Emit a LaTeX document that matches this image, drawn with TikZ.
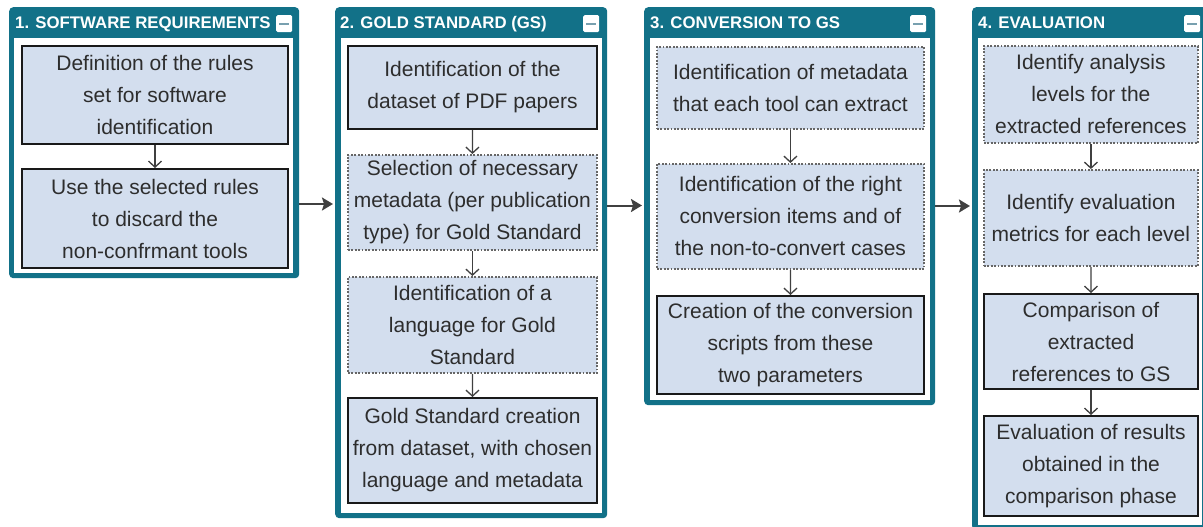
\documentclass[tikz,border=0pt]{standalone}
\usepackage{fontspec}
\setmainfont{Liberation Sans}
\usetikzlibrary{arrows.meta}
\definecolor{teal1}{RGB}{18,113,136}
\definecolor{boxfill}{RGB}{211,222,238}
\definecolor{txt}{RGB}{45,45,45}
\definecolor{minusc}{RGB}{120,160,175}
\begin{document}
\begin{tikzpicture}[x=1pt,y=-1pt,
  panel/.style={fill=teal1, rounded corners=4pt, anchor=north west, inner sep=0pt},
  innerarea/.style={fill=white, anchor=north west, inner sep=0pt},
  hdr/.style={text=white, font=\fontsize{16.8}{18}\selectfont\bfseries, anchor=base west, inner sep=0pt},
  icon/.style={fill=white, rounded corners=1.5pt, minimum width=16pt, minimum height=17pt, inner sep=0pt, anchor=north west},
  solidbox/.style={draw=black!90, line width=2pt, fill=boxfill, anchor=north west, inner sep=0pt, align=center, text=txt, font=\fontsize{21}{32}\selectfont},
  dotbox/.style={solidbox, draw=black!60, line width=1.8pt, dash pattern=on 1.8pt off 1.6pt},
  flow/.style={draw=black!75, line width=1.3pt, -{Straight Barb[length=6pt,width=13pt]}},
  link/.style={draw=black!75, line width=2pt, -{Stealth[length=11pt,width=13pt,inset=2pt]}, shorten >=2pt},
  minusline/.style={draw=minusc, line width=2pt}
]
\useasboundingbox (0,0) rectangle (1203,527);

% panels
\node[panel, minimum width=290pt, minimum height=271pt] (p1) at (9,7) {};
\node[innerarea, minimum width=279pt, minimum height=235pt] (p1i) at (14,38) {};
\node[panel, minimum width=272pt, minimum height=511pt] (p2) at (335,7) {};
\node[innerarea, minimum width=261pt, minimum height=475pt] (p2i) at (341,38) {};
\node[panel, minimum width=291pt, minimum height=398pt] (p3) at (644,7) {};
\node[innerarea, minimum width=280pt, minimum height=362pt] (p3i) at (650,38) {};
\node[panel, minimum width=236pt, minimum height=523pt] (p4) at (972,7) {};
\node[innerarea, minimum width=224pt, minimum height=487pt] (p4i) at (978,38) {};

% headers
\node[hdr] (h1) at (15,28.5) {1. SOFTWARE REQUIREMENTS};
\node[hdr] (h2) at (340,28.5) {2. GOLD STANDARD (GS)};
\node[hdr] (h3) at (650,28.5) {3. CONVERSION TO GS};
\node[hdr] (h4) at (978,28.5) {4. EVALUATION};

% minus icons
\node[icon] (i1) at (276,15) {};
\node[icon] (i2) at (583,15) {};
\node[icon] (i3) at (910,15) {};
\node[icon] (i4) at (1184,15) {};
\foreach \i in {i1,i2,i3,i4}{
  \draw[minusline] ([xshift=-5pt]\i.center) -- ([xshift=5pt]\i.center);
}

% panel 1
\node[solidbox, minimum width=266pt, minimum height=98pt] (a1) at (21,45)
  {Definition of the rules\\set for software\\identification};
\node[solidbox, minimum width=266pt, minimum height=99pt] (a2) at (21,168)
  {Use the selected rules\\to discard the\\non-confrmant tools};

% panel 2
\node[solidbox, minimum width=249pt, minimum height=83pt] (b1) at (347,45)
  {Identification of the\\dataset of PDF papers};
\node[dotbox, minimum width=249pt, minimum height=95pt] (b2) at (347,154)
  {Selection of necessary\\metadata (per publication\\type) for Gold Standard};
\node[dotbox, minimum width=249pt, minimum height=96pt] (b3) at (347,276)
  {Identification of a\\language for Gold\\Standard};
\node[solidbox, minimum width=249pt, minimum height=105pt] (b4) at (347,397)
  {Gold Standard creation\\from dataset, with chosen\\language and metadata};

% panel 3
\node[dotbox, minimum width=267pt, minimum height=82pt] (c1) at (656,46)
  {Identification of metadata\\that each tool can extract};
\node[dotbox, minimum width=267pt, minimum height=105pt] (c2) at (656,163)
  {Identification of the right\\conversion items and of\\the non-to-convert cases};
\node[solidbox, minimum width=267pt, minimum height=98pt] (c3) at (656,295)
  {Creation of the conversion\\scripts from these\\two parameters};

% panel 4
\node[dotbox, minimum width=214pt, minimum height=97pt] (d1) at (983,45)
  {Identify analysis\\levels for the\\extracted references};
\node[dotbox, minimum width=214pt, minimum height=96pt] (d2) at (983,169)
  {Identify evaluation\\metrics for each level};
\node[solidbox, minimum width=214pt, minimum height=95pt] (d3) at (983,293)
  {Comparison of\\extracted\\references to GS};
\node[solidbox, minimum width=214pt, minimum height=100pt] (d4) at (983,415)
  {Evaluation of results\\obtained in the\\comparison phase};

% inner flows
\draw[flow] (a1.south) -- (a2.north);
\draw[flow] (b1.south) -- (b2.north);
\draw[flow] (b2.south) -- (b3.north);
\draw[flow] (b3.south) -- (b4.north);
\draw[flow] (c1.south) -- (c2.north);
\draw[flow] (c2.south) -- (c3.north);
\draw[flow] (d1.south) -- (d2.north);
\draw[flow] (d2.south) -- (d3.north);
\draw[flow] (d3.south) -- (d4.north);

% panel links
\coordinate (r1) at (0,204);
\coordinate (r2) at (0,205.5);
\coordinate (r3) at (0,206);
\draw[link] (p1.east |- r1) -- (p2.west |- r1);
\draw[link] (p2.east |- r2) -- (p3.west |- r2);
\draw[link] (p3.east |- r3) -- (p4.west |- r3);
\end{tikzpicture}
\end{document}
